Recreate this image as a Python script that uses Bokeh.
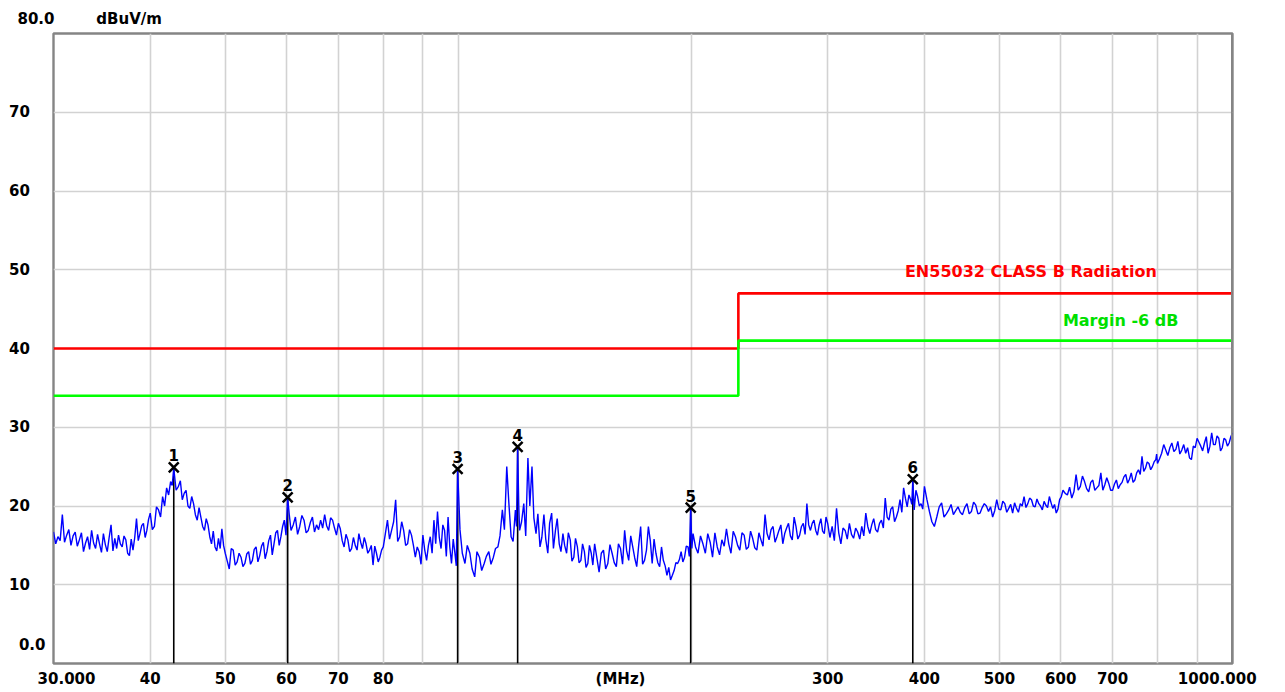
from bokeh.plotting import figure
from bokeh.models import FixedTicker, Label, Span
from bokeh.core.properties import value
from bokeh.embed import file_html
from bokeh.resources import INLINE

# ---------------- data ----------------
# spectrum samples (two interleaved passes)
trace_freq_a = [
    30.0, 30.4, 30.8, 31.2, 31.6, 32.0, 32.4, 32.8, 33.2, 33.6, 34.0, 34.4, 34.8, 35.2, 35.6, 36.0, 36.4, 36.8, 37.2, 37.6,
    38.0, 38.4, 38.8, 39.2, 39.6,
    40.0, 40.5, 41.0, 41.5, 42.0, 42.5, 42.9, 43.5, 44.0, 44.5, 45.0, 45.5, 46.0, 46.5, 47.0, 47.5, 48.0, 48.5, 49.0, 49.5,
    50.0, 50.6, 51.2, 51.8, 52.4, 53.0, 53.6, 54.2, 54.8, 55.4, 56.0, 56.6, 57.2, 57.8, 58.4, 59.0, 59.6, 60.2,
    60.8, 61.6, 62.4, 63.2, 64.0, 64.8, 65.6, 66.4, 67.2, 68.0, 68.8, 69.6, 70.4, 71.2, 72.0, 72.8, 73.6, 74.4, 75.2, 76.0,
    76.8, 77.6, 78.4, 79.2,
    80, 81, 82, 83, 84, 85, 86, 87, 88, 89, 90, 91, 92, 93, 94, 95, 96, 97, 98, 99, 99.8,
    100.5, 102, 103.5, 105, 106.5, 108, 109.5, 111, 112.5, 114, 115.5, 117, 118.5, 119.3, 120, 121.5, 123, 124.5, 126,
    127.5, 129, 130.5, 132, 133.5, 135, 136.5, 138, 139.5, 141, 142.5, 144, 145.5, 147, 148.5,
    150, 152, 154, 156, 158, 160, 162, 164, 166, 168, 170, 172, 174, 176, 178, 180, 182, 184, 186, 188, 190, 192, 194,
    196, 198, 199.6,
    201, 204, 207, 210, 213, 216, 219, 222, 225, 228, 231, 234, 237, 240, 243, 246, 249, 252, 255, 258, 261, 264, 267,
    270, 273, 276, 279, 282, 285, 288, 291, 294, 297,
    300, 304, 308, 312, 316, 320, 324, 328, 332, 336, 340, 344, 348, 352, 356, 360, 364, 368, 372, 376, 380, 384, 386.4,
    388, 392, 396,
    400, 406, 412, 418, 424, 430, 436, 442, 448, 454, 460, 466, 472, 478, 484, 490, 496, 502, 508, 514, 520, 526, 532,
    538, 544, 550, 556, 562, 568, 574, 580, 586, 592, 598,
    604, 612, 620, 628, 636, 644, 652, 660, 668, 676, 684, 692, 700, 708, 716, 724, 732, 740, 748, 756, 764, 772, 780,
    788, 796,
    800, 810, 820, 830, 840, 850, 860, 870, 880, 890, 900, 910, 920, 930, 940, 950, 960, 970, 980, 990, 1000,
]
trace_level_a = [
    16.7, 16.1, 18.9, 16.3, 15.0, 16.7, 15.7, 14.2, 16.1, 16.9, 14.6, 15.2, 16.5, 14.2, 17.6, 15.9, 16.3, 14.8, 15.7, 13.7,
    14.4, 18.4, 16.5, 17.8, 16.9,
    19.1, 17.4, 19.5, 21.2, 22.3, 23.1, 24.8, 22.5, 20.8, 22.0, 19.7, 20.3, 18.2, 18.6, 16.9, 17.6, 15.2, 14.8, 15.9, 17.1,
    14.0, 12.0, 14.4, 12.9, 13.5, 12.7, 14.2, 13.1, 14.8, 13.7, 15.4, 14.2, 16.3, 15.2, 16.9, 16.1, 18.2, 21.0,
    16.9, 18.6, 17.4, 18.2, 16.9, 18.6, 17.6, 18.2, 18.9, 16.9, 18.2, 16.3, 17.1, 14.8, 15.7, 14.6, 15.0, 16.5, 14.6, 15.2,
    14.4, 12.5, 14.0, 13.5,
    14.8, 18.2, 16.9, 20.8, 16.1, 16.9, 15.2, 16.3, 13.5, 14.2, 16.3, 13.1, 16.1, 18.2, 19.3, 14.6, 16.9, 18.6, 12.7, 14.0, 24.6,
    17.0, 12.7, 14.0, 11.0, 13.5, 12.7, 14.2, 13.5, 14.8, 19.5, 25.0, 16.1, 19.5, 27.4, 16.9, 20.3, 26.1, 25.0, 16.5,
    14.8, 18.9, 14.0, 19.1, 16.9, 15.2, 16.5, 14.0, 15.7, 13.5, 14.8, 13.1, 14.2, 12.7, 14.0,
    15.2, 11.6, 14.4, 12.7, 14.0, 12.3, 14.6, 16.9, 13.1, 14.8, 12.3, 17.4, 13.1, 17.4, 12.7, 14.0, 12.3, 13.1, 11.2, 10.6,
    11.8, 12.7, 14.2, 13.5, 14.8, 19.8,
    16.5, 14.0, 15.2, 16.5, 13.5, 14.8, 15.7, 17.1, 14.0, 16.1, 14.4, 16.3, 14.8, 15.9, 14.4, 15.7, 18.9, 15.7, 17.4, 16.1,
    17.6, 16.5, 17.8, 15.7, 17.4, 16.3, 17.8, 20.3, 16.9, 18.2, 16.3, 18.4, 16.5,
    17.8, 17.4, 19.7, 15.2, 16.9, 17.8, 15.9, 16.7, 17.4, 19.1, 16.5, 18.4, 16.7, 18.2, 21.0, 18.2, 19.9, 18.6, 20.8, 22.3,
    19.9, 20.8, 23.2, 19.5, 21.2, 20.3,
    22.5, 19.3, 17.4, 19.9, 18.6, 19.5, 18.9, 19.9, 18.9, 20.3, 19.3, 20.1, 19.1, 20.3, 19.3, 18.6, 20.8, 19.5, 20.3, 19.7,
    19.1, 19.7, 20.3, 21.2, 20.3, 20.8, 19.9, 20.3, 19.5, 20.1, 21.2, 19.7, 19.1, 20.8,
    22.0, 21.4, 21.0, 24.0, 22.5, 23.1, 21.8, 23.3, 22.3, 24.2, 22.7, 22.9, 22.0, 23.3, 22.7, 23.7, 22.9, 24.2, 23.3, 24.6,
    26.3, 24.8, 25.4, 25.0, 25.9,
    25.4, 26.7, 27.1, 27.4, 26.9, 28.2, 27.1, 26.7, 26.1, 27.6, 28.6, 27.6, 28.0, 26.7, 29.3, 27.8, 28.6, 27.4, 28.4, 28.0, 29.3,
]
trace_freq_b = [
    30.2, 30.6, 31.0, 31.4, 31.8, 32.2, 32.6, 33.0, 33.4, 33.8, 34.2, 34.6, 35.0, 35.4, 35.8, 36.2, 36.6, 37.0, 37.4, 37.8,
    38.2, 38.6, 39.0, 39.4, 39.8,
    40.25, 40.75, 41.25, 41.75, 42.25, 42.7, 43.2, 43.75, 44.25, 44.75, 45.25, 45.75, 46.25, 46.75, 47.25, 47.75, 48.25,
    48.75, 49.25, 49.75,
    50.3, 50.9, 51.5, 52.1, 52.7, 53.3, 53.9, 54.5, 55.1, 55.7, 56.3, 56.9, 57.5, 58.1, 58.7, 59.3, 59.9,
    60.5, 61.2, 62.0, 62.8, 63.6, 64.4, 65.2, 66.0, 66.8, 67.6, 68.4, 69.2, 70.0, 70.8, 71.6, 72.4, 73.2, 74.0, 74.8,
    75.6, 76.4, 77.2, 78.0, 78.8, 79.6,
    80.5, 81.5, 82.5, 83.5, 84.5, 85.5, 86.5, 87.5, 88.5, 89.5, 90.5, 91.5, 92.5, 93.5, 94.5, 95.5, 96.5, 97.5, 98.5, 99.4,
    101.2, 102.7, 104.2, 105.7, 107.2, 108.7, 110.2, 111.7, 113.2, 114.7, 116.2, 117.7, 118.9, 119.7, 120.7, 122.2,
    123.7, 125.2, 126.7, 128.2, 129.7, 131.2, 132.7, 134.2, 135.7, 137.2, 138.7, 140.2, 141.7, 143.2, 144.7, 146.2,
    147.7, 149.2,
    151, 153, 155, 157, 159, 161, 163, 165, 167, 169, 171, 173, 175, 177, 179, 181, 183, 185, 187, 189, 191, 193, 195,
    197, 198.8,
    200.3, 202.5, 205.5, 208.5, 211.5, 214.5, 217.5, 220.5, 223.5, 226.5, 229.5, 232.5, 235.5, 238.5, 241.5, 244.5,
    247.5, 250.5, 253.5, 256.5, 259.5, 262.5, 265.5, 268.5, 271.5, 274.5, 277.5, 280.5, 283.5, 286.5, 289.5, 292.5,
    295.5, 298.5,
    302, 306, 310, 314, 318, 322, 326, 330, 334, 338, 342, 346, 350, 354, 358, 362, 366, 370, 374, 378, 382, 385.2,
    387.2, 390, 394, 398,
    403, 409, 415, 421, 427, 433, 439, 445, 451, 457, 463, 469, 475, 481, 487, 493, 499, 505, 511, 517, 523, 529, 535,
    541, 547, 553, 559, 565, 571, 577, 583, 589, 595, 601,
    608, 616, 624, 632, 640, 648, 656, 664, 672, 680, 688, 696, 704, 712, 720, 728, 736, 744, 752, 760, 768, 776, 784,
    792, 798,
    805, 815, 825, 835, 845, 855, 865, 875, 885, 895, 905, 915, 925, 935, 945, 955, 965, 975, 985, 995,
]
trace_level_b = [
    15.2, 15.6, 15.4, 17.0, 16.2, 14.9, 16.6, 15.3, 14.5, 15.3, 16.4, 14.1, 15.1, 16.0, 14.3, 14.6, 15.2, 16.2, 14.0, 15.8,
    16.0, 15.6, 17.5, 16.0, 18.3,
    17.0, 19.9, 18.6, 20.0, 21.4, 22.6, 22.0, 23.2, 21.6, 20.0, 21.2, 18.9, 19.8, 17.4, 18.4, 16.1, 16.8,
    14.3, 14.6, 15.0,
    13.0, 14.6, 12.5, 14.0, 12.3, 13.9, 12.6, 14.5, 12.9, 14.9, 13.3, 15.6, 13.8, 16.6, 15.0, 17.4, 16.3,
    18.8, 17.6, 16.4, 18.8, 16.6, 17.9, 16.7, 17.0, 17.2, 17.5, 18.5, 17.2, 17.8, 15.6, 16.4, 14.2, 16.0, 14.4, 15.4,
    16.0, 14.0, 15.0, 14.9, 12.9, 14.4,
    16.5, 15.8, 18.0, 15.5, 18.0, 15.0, 17.0, 15.0, 14.8, 12.6, 14.4, 15.0, 14.0, 15.2, 16.0, 17.6, 13.6, 14.8, 15.8, 12.4,
    14.0, 15.0, 12.0, 14.2, 11.8, 13.6, 12.6, 14.6, 16.2, 17.0, 20.5, 15.5, 17.4, 20.0, 18.0, 16.2,
    20.0, 18.5, 19.0, 16.0, 15.8, 17.8, 14.6, 18.4, 14.2, 15.0, 16.6, 13.0, 15.9, 12.8, 15.2, 12.2,
    15.0, 12.5,
    13.4, 14.0, 12.0, 15.1, 12.8, 15.2, 12.6, 14.3, 16.2, 13.4, 15.0, 12.6, 14.4, 15.6, 15.8, 12.8, 14.8, 12.4, 12.2,
    11.2, 12.8, 13.2, 12.9, 14.9, 13.6,
    14.6, 14.8, 16.2, 14.0, 15.4, 16.6, 13.8, 14.9, 15.2, 16.8, 15.0, 16.6, 14.5, 16.8, 14.7, 16.6,
    14.9, 16.5, 17.0, 15.4, 16.9, 15.2, 17.2, 16.2, 18.6, 15.8, 17.4, 16.4, 17.6, 17.8, 16.9, 17.6,
    16.8, 18.6,
    16.0, 15.6, 16.6, 17.2, 15.8, 16.4, 17.2, 15.8, 16.2, 17.4, 17.6, 17.0, 17.8, 17.2, 18.6, 19.6, 18.0, 19.4, 19.2,
    21.0, 21.4, 20.2, 21.4, 22.0, 20.0, 19.6,
    20.8, 18.0, 18.6, 20.4, 19.0, 20.2, 19.4, 19.2, 19.8, 19.0, 20.5, 19.0, 19.8, 20.0, 19.9, 19.4, 19.6, 20.6, 19.2,
    20.2, 20.4, 19.2, 20.0, 19.8, 21.0, 20.0, 20.9, 20.0, 20.6, 19.8, 20.4, 20.2, 19.6, 21.2,
    21.6, 22.4, 21.8, 22.0, 23.8, 22.2, 23.0, 22.0, 22.6, 22.0, 23.6, 22.0, 22.8, 22.2, 23.0, 24.0, 23.4, 23.0, 24.2,
    24.0, 24.4, 25.6, 24.6, 25.6, 26.6,
    26.0, 27.8, 26.4, 28.0, 27.2, 26.6, 27.8, 27.4, 25.9, 27.4, 28.1, 27.0, 28.8, 27.6, 27.8, 28.9, 27.0, 28.6, 27.6, 28.8,
]

limit_freq = [30, 230, 1000]
limit_level = [40, 47, 47]
margin_level = [34, 41, 41]

marker_freq = [42.9, 60.2, 99.8, 119.3, 199.6, 386.4]
marker_level = [24.9, 21.1, 24.7, 27.5, 19.8, 23.4]
marker_label = ["1", "2", "3", "4", "5", "6"]

NB = "\u00a0"
grid_freq = [40, 50, 60, 70, 80, 90, 100, 200, 300, 400, 500, 600, 700, 800, 900]
grid_level = [10, 20, 30, 40, 50, 60, 70]
xtick_vals = [30, 40, 50, 60, 70, 80, 162, 300, 400, 500, 600, 700, 1000]
xtick_text = [NB * 5 + "30.000", "40", "50", "60", "70", "80", "(MHz)", "300", "400", "500", "600", "700",
              "1000.000" + NB * 4]
ytick_vals = [2.3, 10, 20, 30, 40, 50, 60, 70]
ytick_text = ["0.0"] + [t + NB * 3 for t in ["10", "20", "30", "40", "50", "60", "70"]]
unit_text = "80.0" + NB * 8 + "dBuV/m"

FONT = "DejaVu Sans"
GRID = "#d2d2d2"
FRAME = "#858585"

pairs = sorted(zip(trace_freq_a + trace_freq_b, trace_level_a + trace_level_b))
trace_freq = [f for f, _ in pairs]
trace_level = [v for _, v in pairs]

# ---------------- figure ----------------
p = figure(x_axis_type="log", x_range=(30, 1000), y_range=(0, 80),
           frame_width=1179, frame_height=630,
           min_border_left=53, min_border_right=45, min_border_top=33, min_border_bottom=29,
           output_backend="svg", toolbar_location=None)
p.background_fill_color = "white"
p.border_fill_color = "white"
p.outline_line_color = FRAME
p.outline_line_width = 2.4

p.title.text = unit_text
p.title.align = "left"
p.title.offset = -36
p.title.text_font = FONT
p.title.text_font_style = "bold"
p.title.text_font_size = "15px"
p.title.text_color = "black"
p.title.standoff = 12

p.xgrid.ticker = FixedTicker(ticks=grid_freq)
p.ygrid.ticker = FixedTicker(ticks=grid_level)
for g in (p.xgrid, p.ygrid):
    g.grid_line_color = GRID
    g.grid_line_width = 1.6
    g.minor_grid_line_color = None

p.xaxis.ticker = FixedTicker(ticks=xtick_vals)
p.xaxis.major_label_overrides = {v: t for v, t in zip(xtick_vals, xtick_text)}
p.yaxis.ticker = FixedTicker(ticks=ytick_vals)
p.yaxis.major_label_overrides = {v: t for v, t in zip(ytick_vals, ytick_text)}
for ax in (p.xaxis, p.yaxis):
    ax.axis_line_color = None
    ax.major_tick_line_color = None
    ax.minor_tick_line_color = None
    ax.major_tick_out = 0
    ax.major_tick_in = 0
    ax.minor_tick_out = 0
    ax.major_label_text_font = FONT
    ax.major_label_text_font_style = "bold"
    ax.major_label_text_font_size = "15px"
    ax.major_label_text_color = "black"
p.yaxis.major_label_standoff = 8
p.xaxis.major_label_standoff = 6

# thicker right border
p.add_layout(Span(location=1000, dimension="height", line_color=FRAME, line_width=3))

# marker stems (under the trace)
p.segment(x0=marker_freq, y0=[0] * len(marker_freq), x1=marker_freq, y1=marker_level,
          line_color="black", line_width=1.6)

# limit and margin lines
p.step(limit_freq, limit_level, mode="after", line_color="#ff0000", line_width=2.6)
p.step(limit_freq, margin_level, mode="after", line_color="#00ff00", line_width=2.6)

# spectrum trace
p.line(trace_freq, trace_level, line_color="#0000ff", line_width=1.4)

# markers
p.scatter(marker_freq, marker_level, marker="x", size=14, line_width=2.5, line_color="black")
p.text(x=marker_freq, y=marker_level, text=marker_label, text_align="center", text_baseline="bottom",
       y_offset=-6, text_font=value(FONT), text_font_style="bold", text_font_size="15px", text_color="black")

# limit texts
p.add_layout(Label(x=549, y=49.8, text="EN55032 CLASS B Radiation", text_align="center",
                   text_baseline="middle", text_font=FONT, text_font_style="bold",
                   text_font_size="16px", text_color="#ff0000"))
p.add_layout(Label(x=717, y=43.5, text="Margin -6 dB", text_align="center",
                   text_baseline="middle", text_font=FONT, text_font_style="bold",
                   text_font_size="16px", text_color="#00e000"))

open("out.html", "w").write(file_html(p, INLINE))
